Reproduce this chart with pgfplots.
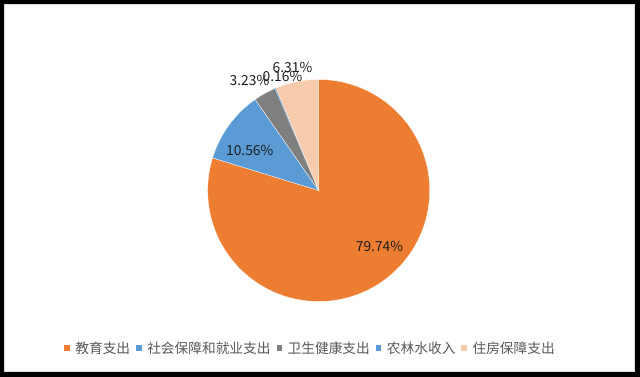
\documentclass[border=0pt]{standalone}
\usepackage{pgfplots}
\pgfplotsset{compat=1.18}
\usepackage{fontspec}
\setmainfont{Noto Sans CJK SC}
\definecolor{cOrange}{HTML}{ED7D31}
\definecolor{cBlue}{HTML}{5B9BD5}
\definecolor{cGray}{HTML}{7F7F7F}
\definecolor{cPeach}{HTML}{F8CBAD}
\definecolor{cText}{HTML}{595959}
% shares (%)
\def\pA{79.74}\def\pB{10.56}\def\pC{3.23}\def\pD{0.16}\def\pE{6.31}
\def\cx{318.7}\def\cy{186.5}\def\rr{111}
\begin{document}
\begin{tikzpicture}[x=1pt,y=1pt]
\pgfmathsetmacro{\aO}{90}
\pgfmathsetmacro{\aA}{90-3.6*\pA}
\pgfmathsetmacro{\aB}{\aA-3.6*\pB}
\pgfmathsetmacro{\aC}{\aB-3.6*\pC}
\pgfmathsetmacro{\aD}{\aC-3.6*\pD}
\pgfmathsetmacro{\aE}{\aD-3.6*\pE}
\fill[black] (0,0) rectangle (640,377);
\fill[white, draw={rgb,255:red,217;green,217;blue,217}, line width=0.8pt] (4.5,5.5) rectangle (634.5,372.5);
\begin{axis}[at={(0,0)}, anchor=south west, scale only axis,
  width=640pt, height=377pt, xmin=0, xmax=640, ymin=0, ymax=377,
  hide axis, clip=false,
  legend columns=-1,
  legend style={at={(axis cs:310,29)}, anchor=center, draw=none, fill=none,
    font=\fontsize{13.7}{15}\selectfont, text=cText,
    /tikz/every odd column/.append style={column sep=4.5pt},
    /tikz/every even column/.append style={column sep=5pt},
    nodes={inner sep=1pt}},
  legend image code/.code={\path[#1, draw=none] (0pt,-2.8pt) rectangle (5.6pt,2.8pt);},
  every axis plot/.append style={draw=white, line width=0.3pt, variable=\t},
]
\addplot[fill=cOrange, domain=\aA:\aO, samples=200] ({\cx+\rr*cos(t)},{\cy+\rr*sin(t)}) -- (axis cs:\cx,\cy) -- cycle;
\addlegendentry{教育支出}
\addplot[fill=cBlue, domain=\aB:\aA, samples=40] ({\cx+\rr*cos(t)},{\cy+\rr*sin(t)}) -- (axis cs:\cx,\cy) -- cycle;
\addlegendentry{社会保障和就业支出}
\addplot[fill=cGray, domain=\aC:\aB, samples=15] ({\cx+\rr*cos(t)},{\cy+\rr*sin(t)}) -- (axis cs:\cx,\cy) -- cycle;
\addlegendentry{卫生健康支出}
\addplot[fill=cBlue, draw=none, domain=\aD:\aC, samples=3] ({\cx+\rr*cos(t)},{\cy+\rr*sin(t)}) -- (axis cs:\cx,\cy) -- cycle;
\addlegendentry{农林水收入}
\addplot[fill=cPeach, domain=\aE:\aD, samples=30] ({\cx+\rr*cos(t)},{\cy+\rr*sin(t)}) -- (axis cs:\cx,\cy) -- cycle;
\addlegendentry{住房保障支出}
\begin{scope}[every node/.style={font=\fontsize{13.8}{15}\selectfont, text={rgb,255:red,30;green,30;blue,30}, inner sep=0pt}]
\node at (axis cs:379.5,131) {79.74\%};
\node at (axis cs:249.7,227) {10.56\%};
\node at (axis cs:249.5,297) {3.23\%};
\node at (axis cs:282.5,300.3) {0.16\%};
\node at (axis cs:292.5,309.5) {6.31\%};
\end{scope}
\end{axis}
\end{tikzpicture}
\end{document}
